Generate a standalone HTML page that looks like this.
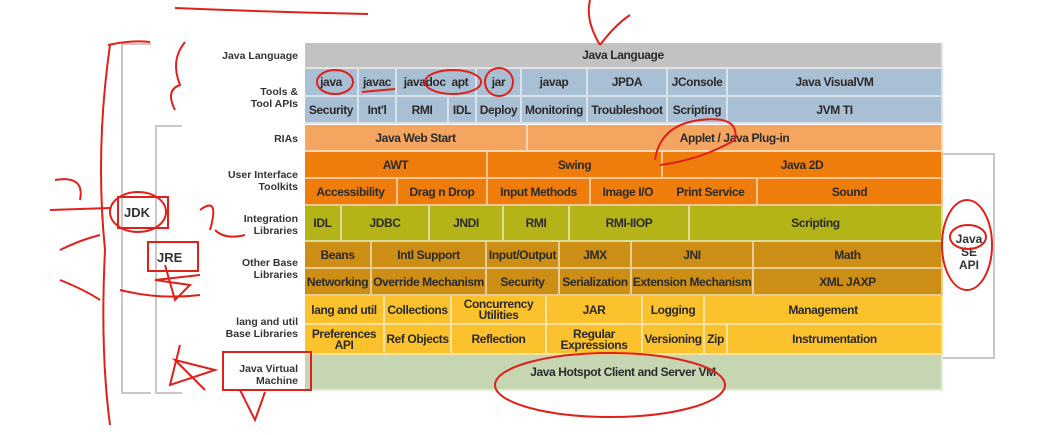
<!DOCTYPE html>
<html><head><meta charset="utf-8"><style>
body{margin:0;width:1056px;height:435px;background:#fff;position:relative;overflow:hidden;font-family:"Liberation Sans",Arial,sans-serif;}
.c{position:absolute;display:flex;align-items:center;justify-content:center;text-align:center;font-weight:bold;font-size:12px;letter-spacing:-0.4px;color:#2a2a2a;box-sizing:border-box;border-right:2px solid rgba(255,255,255,.55);border-bottom:2px solid rgba(255,255,255,.55);line-height:11px;white-space:nowrap;padding-top:1px;}
.l{position:absolute;text-align:right;font-weight:bold;font-size:10.5px;color:#333;width:130px;left:168px;line-height:12px;}
.g{background:#c2c2c2}.b{background:#a9bfd3}.lo{background:#f4a660}.o{background:#ef7d0c}.ol{background:#b4b418}.br{background:#cc8e14}.y{background:#fcc22e}.gr{background:#c6d6b2}
.br2{position:absolute;border:2px solid #c8c8c8;}
</style></head><body>
<div class="br2" style="left:121px;top:43px;width:28px;height:347px;border-right:none"></div>
<div class="br2" style="left:155px;top:125px;width:25px;height:265px;border-right:none"></div>
<div class="br2" style="left:943px;top:153px;width:50px;height:202px;border-left:none"></div>
<div style="position:absolute;left:124px;top:205px;font-size:13px;font-weight:bold;color:#333">JDK</div>
<div style="position:absolute;left:157px;top:250px;font-size:13px;font-weight:bold;color:#333">JRE</div>
<div style="position:absolute;left:954px;top:233px;width:30px;font-size:12px;font-weight:bold;color:#333;text-align:center;line-height:13px">Java<br>SE<br>API</div>

<div class="l" style="top:50px">Java Language</div>
<div class="l" style="top:86px">Tools &amp;<br>Tool APIs</div>
<div class="l" style="top:133px">RIAs</div>
<div class="l" style="top:169px">User Interface<br>Toolkits</div>
<div class="l" style="top:213px">Integration<br>Libraries</div>
<div class="l" style="top:257px">Other Base<br>Libraries</div>
<div class="l" style="top:316px">lang and util<br>Base Libraries</div>
<div class="l" style="top:363px">Java Virtual<br>Machine</div>

<div class="c g" style="left:305px;top:43px;width:638px;height:26px">Java Language</div>

<div class="c b" style="left:305px;top:69px;width:54px;height:28px">java</div>
<div class="c b" style="left:359px;top:69px;width:38px;height:28px">javac</div>
<div class="c b" style="left:397px;top:69px;width:80px;height:28px">javadoc&nbsp;&nbsp;apt</div>
<div class="c b" style="left:477px;top:69px;width:45px;height:28px">jar</div>
<div class="c b" style="left:522px;top:69px;width:66px;height:28px">javap</div>
<div class="c b" style="left:588px;top:69px;width:80px;height:28px">JPDA</div>
<div class="c b" style="left:668px;top:69px;width:60px;height:28px">JConsole</div>
<div class="c b" style="left:728px;top:69px;width:215px;height:28px">Java VisualVM</div>
<div class="c b" style="left:305px;top:97px;width:54px;height:27px">Security</div>
<div class="c b" style="left:359px;top:97px;width:38px;height:27px">Int'l</div>
<div class="c b" style="left:397px;top:97px;width:52px;height:27px">RMI</div>
<div class="c b" style="left:449px;top:97px;width:28px;height:27px">IDL</div>
<div class="c b" style="left:477px;top:97px;width:45px;height:27px">Deploy</div>
<div class="c b" style="left:522px;top:97px;width:66px;height:27px">Monitoring</div>
<div class="c b" style="left:588px;top:97px;width:80px;height:27px">Troubleshoot</div>
<div class="c b" style="left:668px;top:97px;width:60px;height:27px">Scripting</div>
<div class="c b" style="left:728px;top:97px;width:215px;height:27px">JVM TI</div>

<div class="c lo" style="left:305px;top:125px;width:223px;height:27px">Java Web Start</div>
<div class="c lo" style="left:528px;top:125px;width:415px;height:27px">Applet / Java Plug-in</div>

<div class="c o" style="left:305px;top:152px;width:183px;height:27px">AWT</div>
<div class="c o" style="left:488px;top:152px;width:175px;height:27px">Swing</div>
<div class="c o" style="left:663px;top:152px;width:280px;height:27px">Java 2D</div>
<div class="c o" style="left:305px;top:179px;width:93px;height:27px">Accessibility</div>
<div class="c o" style="left:398px;top:179px;width:90px;height:27px">Drag n Drop</div>
<div class="c o" style="left:488px;top:179px;width:103px;height:27px">Input Methods</div>
<div class="c o" style="left:591px;top:179px;width:167px;height:27px;justify-content:space-around">Image I/O <span>Print Service</span></div>
<div class="c o" style="left:758px;top:179px;width:185px;height:27px">Sound</div>

<div class="c ol" style="left:305px;top:206px;width:37px;height:36px">IDL</div>
<div class="c ol" style="left:342px;top:206px;width:88px;height:36px">JDBC</div>
<div class="c ol" style="left:430px;top:206px;width:74px;height:36px">JNDI</div>
<div class="c ol" style="left:504px;top:206px;width:66px;height:36px">RMI</div>
<div class="c ol" style="left:570px;top:206px;width:120px;height:36px">RMI-IIOP</div>
<div class="c ol" style="left:690px;top:206px;width:253px;height:36px">Scripting</div>

<div class="c br" style="left:305px;top:242px;width:67px;height:27px">Beans</div>
<div class="c br" style="left:372px;top:242px;width:115px;height:27px">Intl Support</div>
<div class="c br" style="left:487px;top:242px;width:73px;height:27px">Input/Output</div>
<div class="c br" style="left:560px;top:242px;width:72px;height:27px">JMX</div>
<div class="c br" style="left:632px;top:242px;width:122px;height:27px">JNI</div>
<div class="c br" style="left:754px;top:242px;width:189px;height:27px">Math</div>
<div class="c br" style="left:305px;top:269px;width:67px;height:27px">Networking</div>
<div class="c br" style="left:372px;top:269px;width:115px;height:27px">Override Mechanism</div>
<div class="c br" style="left:487px;top:269px;width:73px;height:27px">Security</div>
<div class="c br" style="left:560px;top:269px;width:72px;height:27px">Serialization</div>
<div class="c br" style="left:632px;top:269px;width:122px;height:27px">Extension Mechanism</div>
<div class="c br" style="left:754px;top:269px;width:189px;height:27px">XML JAXP</div>

<div class="c y" style="left:305px;top:296px;width:80px;height:29px">lang and util</div>
<div class="c y" style="left:385px;top:296px;width:67px;height:29px">Collections</div>
<div class="c y" style="left:452px;top:296px;width:95px;height:29px">Concurrency<br>Utilities</div>
<div class="c y" style="left:547px;top:296px;width:96px;height:29px">JAR</div>
<div class="c y" style="left:643px;top:296px;width:62px;height:29px">Logging</div>
<div class="c y" style="left:705px;top:296px;width:238px;height:29px">Management</div>
<div class="c y" style="left:305px;top:325px;width:80px;height:30px">Preferences<br>API</div>
<div class="c y" style="left:385px;top:325px;width:67px;height:30px">Ref Objects</div>
<div class="c y" style="left:452px;top:325px;width:95px;height:30px">Reflection</div>
<div class="c y" style="left:547px;top:325px;width:96px;height:30px">Regular<br>Expressions</div>
<div class="c y" style="left:643px;top:325px;width:62px;height:30px">Versioning</div>
<div class="c y" style="left:705px;top:325px;width:23px;height:30px">Zip</div>
<div class="c y" style="left:728px;top:325px;width:215px;height:30px">Instrumentation</div>

<div class="c gr" style="left:305px;top:355px;width:638px;height:36px">Java Hotspot Client and Server VM</div>

<svg width="1056" height="435" style="position:absolute;left:0;top:0" fill="none" stroke="#e0201a" stroke-width="2">
<path d="M175 8 Q270 12 368 14"/>
<path d="M590 0 Q585 20 600 45 M600 45 Q615 25 630 15"/>
<path d="M110 45 Q95 150 105 250 Q100 350 110 425 M108 45 Q130 40 150 42"/>
<path d="M185 42 Q170 60 180 85 Q165 90 175 110"/>
<rect x="118" y="197" width="50" height="31"/>
<ellipse cx="138" cy="212" rx="28" ry="20"/>
<rect x="148" y="242" width="50" height="29"/>
<path d="M165 265 L175 300 L190 285 L155 280 L200 275"/>
<path d="M120 290 Q160 300 200 295"/>
<rect x="223" y="352" width="88" height="38"/>
<path d="M180 345 L170 385 L215 370 L175 360 L205 390"/>
<path d="M240 390 L255 420 L265 392"/>
<ellipse cx="335" cy="82" rx="18" ry="12"/>
<ellipse cx="453" cy="82" rx="28" ry="12"/>
<ellipse cx="499" cy="82" rx="14" ry="14"/>
<path d="M362 92 L395 89"/>
<path d="M655 160 Q660 125 700 120 Q740 115 735 140 Q700 160 660 165"/>
<ellipse cx="967" cy="245" rx="25" ry="45"/>
<ellipse cx="968" cy="237" rx="18" ry="12"/>
<ellipse cx="610" cy="385" rx="115" ry="32"/>
<path d="M55 180 Q85 175 80 200 M50 210 L110 208"/>
<path d="M60 250 Q80 240 100 235 M60 280 Q85 290 100 300"/>
<path d="M200 210 Q220 195 210 230 M215 230 Q225 240 245 235"/>
</svg>
</body></html>
